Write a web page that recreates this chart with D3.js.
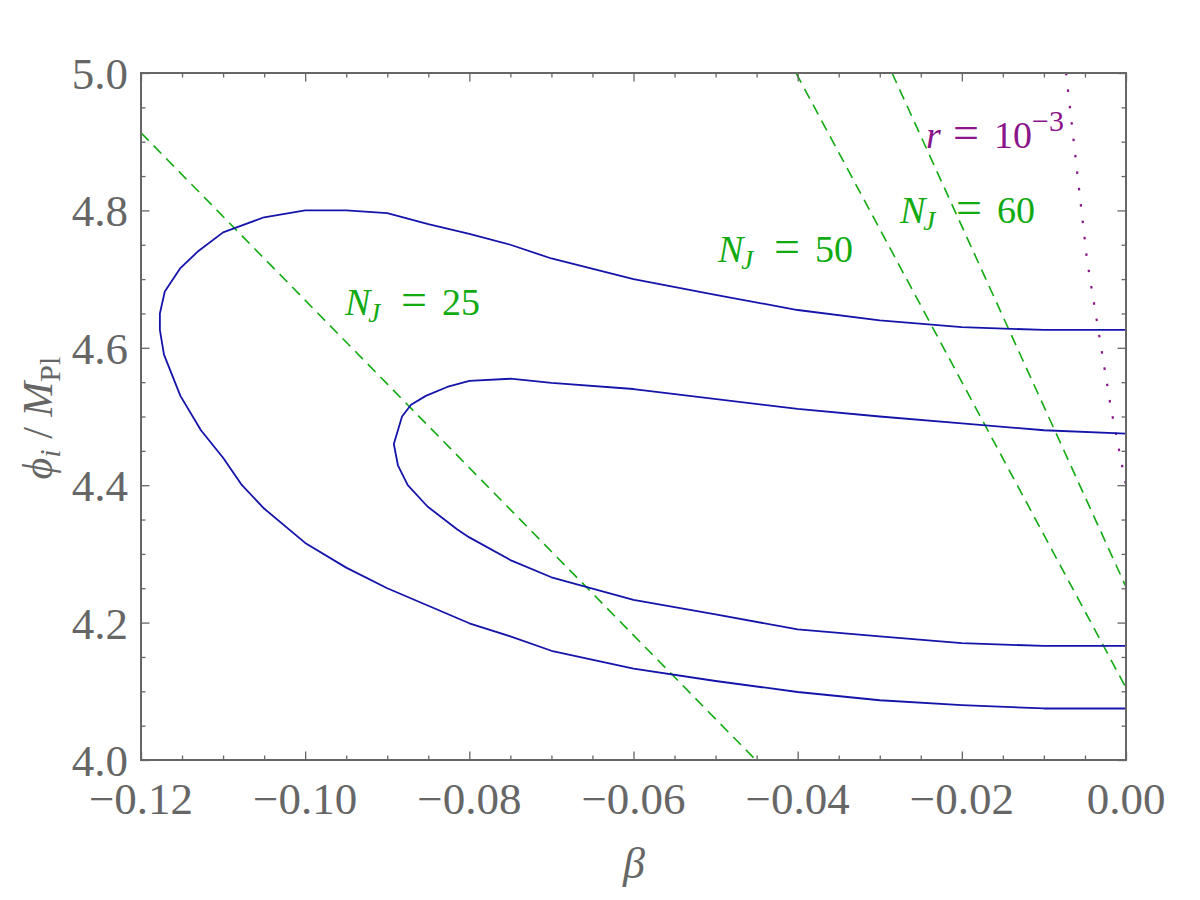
<!DOCTYPE html>
<html>
<head>
<meta charset="utf-8">
<script src="https://cdn.jsdelivr.net/npm/d3@7"></script>
<style>
  body { margin: 0; background: #fff; }
  text { font-family: "Liberation Serif", "Times New Roman", serif; }
</style>
</head>
<body>
<svg width="1200" height="900"></svg>
<script>
// outer contour, traced from the top-right end round to the bottom-right end
var outerBeta = [0, -0.01, -0.02, -0.03, -0.04, -0.05, -0.06, -0.07, -0.075, -0.08, -0.085, -0.09, -0.095, -0.10,
  -0.105, -0.110, -0.113, -0.1152, -0.1171, -0.1177, -0.1177, -0.1172, -0.1152, -0.1127, -0.110, -0.1077,
  -0.105, -0.100, -0.095, -0.090, -0.080, -0.075, -0.070, -0.060, -0.050, -0.040, -0.030, -0.020, -0.010, 0];
var outerPhi = [4.626, 4.626, 4.630, 4.640, 4.655, 4.677, 4.700, 4.730, 4.750, 4.766, 4.780, 4.796, 4.800, 4.800,
  4.790, 4.768, 4.741, 4.716, 4.682, 4.650, 4.626, 4.590, 4.530, 4.480, 4.440, 4.400,
  4.366, 4.316, 4.280, 4.250, 4.199, 4.180, 4.159, 4.133, 4.115, 4.099, 4.087, 4.080, 4.075, 4.075];

// inner contour
var innerBeta = [0, -0.01, -0.02, -0.03, -0.04, -0.06, -0.07, -0.075, -0.08, -0.0827, -0.0853, -0.0871, -0.0882,
  -0.0892, -0.0887, -0.0875, -0.0851, -0.0815, -0.080, -0.075, -0.070, -0.060, -0.050, -0.040, -0.030, -0.020, -0.010, 0];
var innerPhi = [4.475, 4.480, 4.490, 4.500, 4.511, 4.540, 4.549, 4.555, 4.552, 4.543, 4.530, 4.517, 4.500,
  4.460, 4.429, 4.400, 4.369, 4.336, 4.324, 4.291, 4.266, 4.233, 4.212, 4.190, 4.180, 4.170, 4.166, 4.166];

// N_J lines (end points) and r = 10^-3 curve
var nj25 = [[-0.12, 4.913], [-0.0451, 4.0]];
var nj50 = [[-0.0402, 5.0], [0, 4.105]];
var nj60 = [[-0.0285, 5.0], [0, 4.252]];
var rBeta = [-0.0073, -0.00475, -0.00183, -0.00024, 0];
var rPhi = [5.0, 4.728, 4.512, 4.414, 4.40];

var xTicks = [-0.12, -0.10, -0.08, -0.06, -0.04, -0.02, 0];
var yTicks = [4.0, 4.2, 4.4, 4.6, 4.8, 5.0];

var svg = d3.select('svg');
var pl = 141, pr = 1126, pt = 73, pb = 760;
var x = d3.scaleLinear().domain([-0.12, 0]).range([pl, pr]);
var y = d3.scaleLinear().domain([4, 5]).range([pb, pt]);
var grey = '#666';
var green = '#11aa11', purple = '#8a148a';

var zip = function (a, b) { return a.map(function (d, i) { return [d, b[i]]; }); };
var line = d3.line().x(function (d) { return x(d[0]); }).y(function (d) { return y(d[1]); });

svg.append('clipPath').attr('id', 'clip').append('rect')
  .attr('x', pl).attr('y', pt).attr('width', pr - pl).attr('height', pb - pt);
var inner = svg.append('g').attr('clip-path', 'url(#clip)');

[nj25, nj50, nj60].forEach(function (l) {
  inner.append('path').attr('d', line(l))
    .attr('fill', 'none').attr('stroke', green).attr('stroke-width', 1.6)
    .attr('stroke-dasharray', '11,7');
});
inner.append('path').attr('d', line(zip(rBeta, rPhi)))
  .attr('fill', 'none').attr('stroke', purple).attr('stroke-width', 2.2)
  .attr('stroke-dasharray', '2.5,14');
[zip(outerBeta, outerPhi), zip(innerBeta, innerPhi)].forEach(function (c) {
  inner.append('path').attr('d', line(c))
    .attr('fill', 'none').attr('stroke', '#1414aa').attr('stroke-width', 1.8)
    .attr('stroke-linejoin', 'round');
});

// frame and inward ticks on every side
var xMinor = d3.range(-0.12, 0.0001, 0.005), yMinor = d3.range(4, 5.0001, 0.05);
var axes = [
  d3.axisBottom(x).tickValues(xMinor), d3.axisTop(x).tickValues(xMinor),
  d3.axisLeft(y).tickValues(yMinor), d3.axisRight(y).tickValues(yMinor)
];
var pos = ['translate(0,' + pb + ')', 'translate(0,' + pt + ')',
           'translate(' + pl + ',0)', 'translate(' + pr + ',0)'];
axes.forEach(function (a, i) {
  var g = svg.append('g').attr('transform', pos[i])
    .call(a.tickSizeOuter(0).tickSizeInner(-4.5).tickFormat(''));
  g.select('.domain').remove();
  g.selectAll('line').attr('stroke', grey).attr('stroke-width', 1.3);
  var maj = i < 2 ? xTicks : yTicks;
  g.selectAll('.tick').filter(function (d) {
    return maj.some(function (m) { return Math.abs(m - d) < 1e-6; });
  }).select('line').attr(i < 2 ? 'y2' : 'x2', (i === 0 || i === 3) ? -8.5 : 8.5);
});
svg.append('rect').attr('x', pl).attr('y', pt).attr('width', pr - pl).attr('height', pb - pt)
  .attr('fill', 'none').attr('stroke', grey).attr('stroke-width', 2);

var fmt = d3.format('.2f'), fmtY = d3.format('.1f');
svg.append('g').selectAll('text').data(xTicks).enter().append('text')
  .attr('x', function (d) { return x(d); }).attr('y', 814)
  .attr('text-anchor', 'middle').attr('font-size', 45).attr('fill', grey)
  .text(function (d) { return fmt(d); });
svg.append('g').selectAll('text').data(yTicks).enter().append('text')
  .attr('x', 128).attr('y', function (d) { return y(d) + 16; })
  .attr('text-anchor', 'end').attr('font-size', 45).attr('fill', grey)
  .text(function (d) { return fmtY(d); });

// axis titles
svg.append('text').attr('x', 634).attr('y', 878).attr('text-anchor', 'middle')
  .attr('font-size', 44).attr('font-style', 'italic').attr('fill', grey).text('β');
var yl = svg.append('text').attr('transform', 'translate(52,418) rotate(-90)')
  .attr('text-anchor', 'middle').attr('font-size', 42).attr('fill', grey);
yl.append('tspan').attr('font-style', 'italic').text('ϕ');
yl.append('tspan').attr('font-style', 'italic').attr('font-size', 30).attr('dy', 8).text('i');
yl.append('tspan').attr('dy', -8).text(' / ');
yl.append('tspan').attr('font-style', 'italic').text('M');
yl.append('tspan').attr('font-size', 30).attr('dy', 8).text('Pl');

// curve labels
var labels = [['25', 345, 315], ['50', 718, 262], ['60', 900, 223]];
labels.forEach(function (l) {
  var t = svg.append('text').attr('y', l[2]).attr('font-size', 38).attr('fill', green);
  t.append('tspan').attr('x', l[1]).attr('font-style', 'italic').text('N');
  t.append('tspan').attr('font-style', 'italic').attr('font-size', 27).attr('dy', 7).attr('dx', -2).text('J');
  t.append('tspan').attr('x', l[1] + 56).attr('dy', -7).attr('font-size', 46).text('=');
  t.append('tspan').attr('x', l[1] + 97).text(l[0]);
});
var rt = svg.append('text').attr('y', 148).attr('font-size', 38).attr('fill', purple);
rt.append('tspan').attr('x', 926).attr('font-style', 'italic').text('r');
rt.append('tspan').attr('x', 953).attr('font-size', 46).text('=');
rt.append('tspan').attr('x', 994).text('10');
rt.append('tspan').attr('font-size', 30).attr('dy', -17).text('−3');
</script>
</body>
</html>
